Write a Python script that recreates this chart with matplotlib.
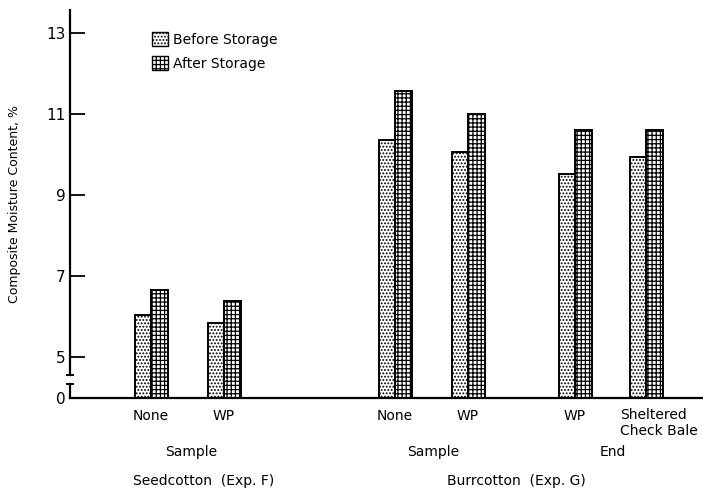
import matplotlib
matplotlib.use("Agg")
import matplotlib.pyplot as plt
from matplotlib.patches import Patch

# moisture content, %
labels = ["None", "WP", "None", "WP", "WP", "Sheltered\nCheck Bale"]
before = [6.05, 5.85, 10.37, 10.08, 9.53, 9.94]
after = [6.67, 6.40, 11.57, 11.02, 10.62, 10.62]
ytick_vals = [0, 5, 7, 9, 11, 13]

# layout: group centres on the axis (roughly pixel units)
centres = [81, 154, 325, 398, 505, 576]
bw = 16.5
BREAK = 4.0  # values >= 5 are drawn shifted down by 4 (broken axis)


def squash(v):
    return v - BREAK if v >= 5 else v * (1.0 / 5.0)


plt.rcParams['font.family'] = ['DejaVu Sans']
plt.rcParams['hatch.linewidth'] = 0.9

fig = plt.figure(figsize=(7.03, 4.96), dpi=100)
ax = fig.add_axes([70 / 703, 1 - 398 / 496, 633 / 703, 388 / 496])

b_h = [squash(v) for v in before]
a_h = [squash(v) for v in after]
ax.bar([c - bw / 2 for c in centres], b_h, width=bw, color='white',
       edgecolor='black', hatch='.....', linewidth=1.4)
ax.bar([c + bw / 2 for c in centres], a_h, width=bw, color='white',
       edgecolor='black', hatch='++++', linewidth=1.4)

ax.set_xlim(0, 633)
ax.set_ylim(0, 9.58)

# y axis with a break between 0 and 5
for s in ('top', 'right', 'left'):
    ax.spines[s].set_visible(False)
ax.spines['bottom'].set_linewidth(1.6)
gap_lo, gap_hi = 0.35, 0.57
ax.plot([0, 0], [0, gap_lo], color='black', lw=1.6, clip_on=False)
ax.plot([0, 0], [gap_hi, 9.58], color='black', lw=1.6, clip_on=False)
ax.plot([-3, 3], [gap_lo, gap_lo], color='black', lw=1.4, clip_on=False)
ax.plot([-3, 3], [gap_hi, gap_hi], color='black', lw=1.4, clip_on=False)

ax.set_yticks([squash(v) for v in ytick_vals])
ax.set_yticklabels([str(v) for v in ytick_vals])
ax.tick_params(axis='y', direction='in', length=11, width=1.3, labelsize=11, pad=3)
ax.yaxis.get_major_ticks()[0].tick1line.set_visible(False)

ax.set_xticks(centres)
ax.set_xticklabels(labels[:-1] + [""], fontsize=10)
ax.tick_params(axis='x', length=0, pad=8)
ax.text(589, -0.025, labels[-1], transform=ax.get_xaxis_transform(), ha='center',
        va='top', multialignment='left', fontsize=10)

ax.set_ylabel("Composite Moisture Content, %", fontsize=9)
ax.yaxis.set_label_coords(-0.077, 0.5)

# group captions under the axis
trans = ax.get_xaxis_transform()
ax.text(121, -0.14, "Sample", transform=trans, ha='center', va='center', fontsize=10)
ax.text(134, -0.215, "Seedcotton  (Exp. F)", transform=trans, ha='center', va='center', fontsize=10)
ax.text(363, -0.14, "Sample", transform=trans, ha='center', va='center', fontsize=10)
ax.text(543, -0.14, "End", transform=trans, ha='center', va='center', fontsize=10)
ax.text(446, -0.215, "Burrcotton  (Exp. G)", transform=trans, ha='center', va='center', fontsize=10)

handles = [Patch(facecolor='white', edgecolor='black', hatch='.....', label='Before Storage'),
           Patch(facecolor='white', edgecolor='black', hatch='++++', label='After Storage')]
ax.legend(handles=handles, loc='upper left', bbox_to_anchor=(0.1185, 0.961), frameon=False,
          fontsize=10, handlelength=1.15, handleheight=1.15, handletextpad=0.4,
          labelspacing=0.7, borderpad=0)

fig.savefig("out.png", dpi=100)
